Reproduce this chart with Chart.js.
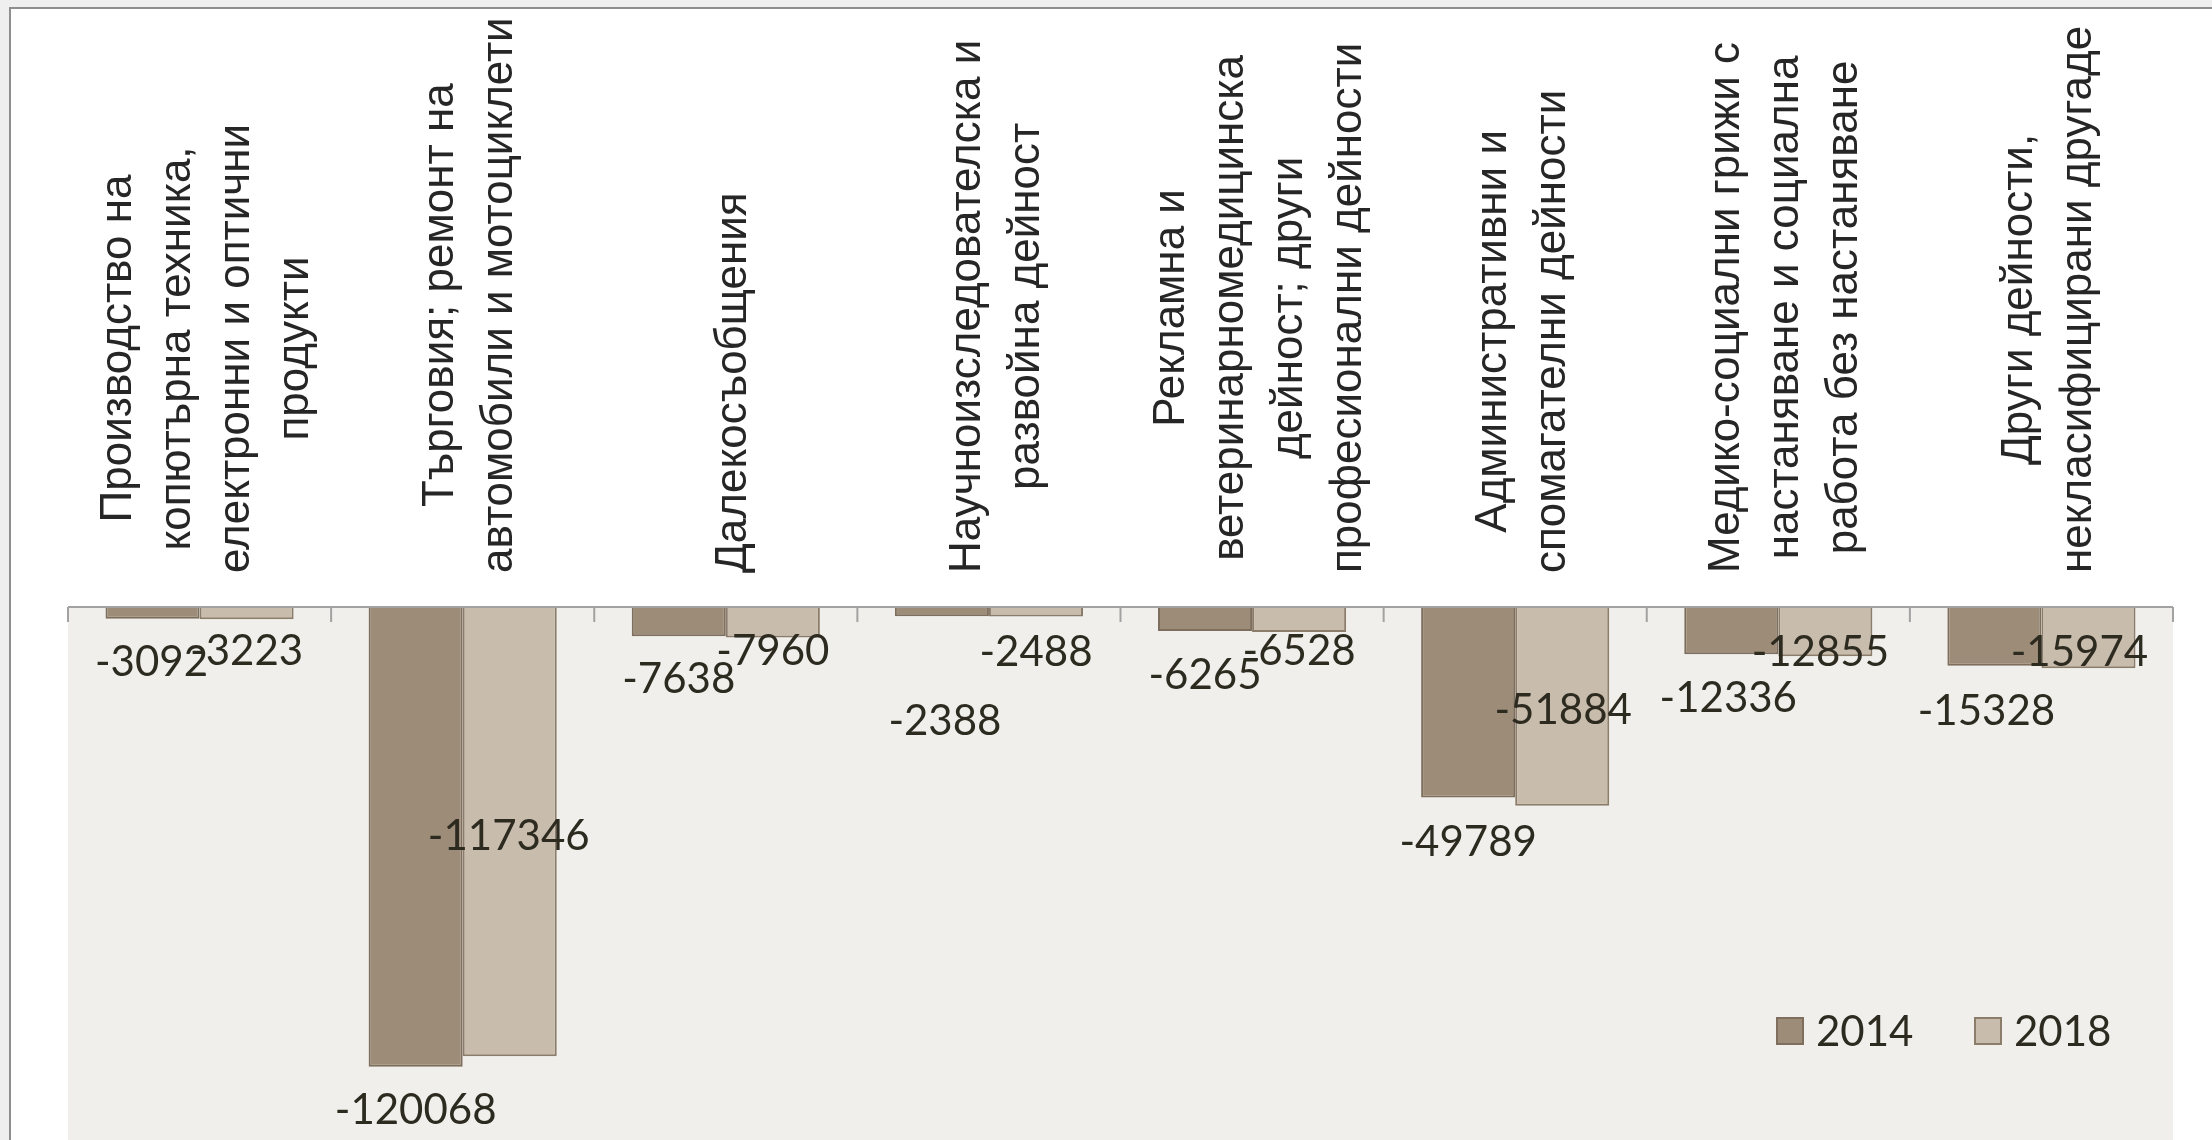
<!DOCTYPE html>
<html>
<head>
<meta charset="utf-8">
<script src="https://cdn.jsdelivr.net/npm/chart.js@4"></script>
<style>
  html, body { margin: 0; padding: 0; overflow: hidden; background: #efefef; }
  #frame { position: absolute; left: 9px; top: 7px; width: 2300px; height: 1200px;
           background: #fff; border-left: 2px solid #8e8e8e; border-top: 2px solid #8e8e8e; }
  #chart { position: absolute; left: 0; top: 0; }
</style>
</head>
<body>
<div id="frame"></div>
<canvas id="chart" width="2212" height="1145"></canvas>
<script>
// categories, split the way the original wraps them
const categories = [
  ["Производство на", "копютърна техника,", "електронни и оптични", "продукти"],
  ["Търговия; ремонт на", "автомобили и мотоциклети"],
  ["Далекосъобщения"],
  ["Научноизследователска и", "развойна дейност"],
  ["Рекламна и", "ветеринарномедицинска", "дейност; други", "професионални дейности"],
  ["Административни и", "спомагателни дейности"],
  ["Медико-социални грижи с", "настаняване и социална", "работа без настаняване"],
  ["Други дейности,", "некласифицирани другаде"]
];
const seriesNames = ["2014", "2018"];
const values2014 = [-3092, -120068, -7638, -2388, -6265, -49789, -12336, -15328];
const values2018 = [-3223, -117346, -7960, -2488, -6528, -51884, -12855, -15974];
const valueMin = -140000;
const valueMax = 0;

// hand-placed data labels in the original: shift [dx, dy] from the bar end, px
const labelShift2014 = [[-1, 42], [0, 42], [0, 42], [3, 104], [0, 43], [0, 43], [-3, 43], [-8, 44]];
const labelShift2018 = [[0, 31], [-1, -221], [0, 13], [0, 34], [0, 18], [1, -97], [-5, -5], [-9, -17]];

const colors = [
  { fill: "#9d8d78", line: "#7d6e5d" },
  { fill: "#c8bcad", line: "#8c7d6b" }
];
const textColor = "#2d2a20";

const decor = {
  id: "decor",
  beforeDraw(chart) {
    const { ctx, chartArea: a } = chart;
    ctx.save();
    ctx.fillStyle = "#f0efeb";
    ctx.fillRect(a.left, a.top, a.right - a.left, a.bottom - a.top);
    ctx.restore();
  },
  afterDatasetsDraw(chart) {
    const { ctx, chartArea: a } = chart;
    const x = chart.scales.x;
    const half = (x.getPixelForValue(1) - x.getPixelForValue(0)) / 2;

    // axis line + inward ticks
    ctx.save();
    ctx.strokeStyle = "#a2a2a2";
    ctx.lineWidth = 2;
    ctx.beginPath();
    ctx.moveTo(a.left, a.top);
    ctx.lineTo(a.right, a.top);
    for (let i = 0; i <= categories.length; i++) {
      const px = i < categories.length ? x.getPixelForValue(i) - half : x.getPixelForValue(i - 1) + half;
      ctx.moveTo(px, a.top);
      ctx.lineTo(px, a.top + 15);
    }
    ctx.stroke();

    // data labels
    const shifts = [labelShift2014, labelShift2018];
    ctx.font = '42px Lato, "Open Sans", sans-serif';
    ctx.fillStyle = textColor;
    ctx.textAlign = "center";
    ctx.textBaseline = "alphabetic";
    chart.data.datasets.forEach((ds, d) => {
      chart.getDatasetMeta(d).data.forEach((bar, i) => {
        const [dx, dy] = shifts[d][i];
        ctx.fillText(String(ds.data[i]), bar.x + dx, bar.y + dy + 15);
      });
    });
    ctx.restore();
  },
  afterDraw(chart) {
    const { ctx, chartArea: a } = chart;
    const x = chart.scales.x;

    // rotated, centred category labels above the axis
    ctx.save();
    ctx.font = '44px "Liberation Sans", Arial, sans-serif';
    ctx.fillStyle = "#262626";
    ctx.textAlign = "center";
    ctx.textBaseline = "middle";
    categories.forEach((lines, i) => {
      const cx = x.getPixelForValue(i) + 8;
      const widest = Math.max(...lines.map(l => ctx.measureText(l).width));
      const cy = a.top - 34 - widest / 2;
      lines.forEach((line, j) => {
        ctx.save();
        ctx.translate(cx + (j - (lines.length - 1) / 2) * 59, cy);
        ctx.rotate(-Math.PI / 2);
        ctx.fillText(line, 0, 0);
        ctx.restore();
      });
    });
    ctx.restore();

    // legend inside the plot, bottom right
    ctx.save();
    ctx.font = '42px Lato, "Open Sans", sans-serif';
    ctx.textBaseline = "alphabetic";
    ctx.textAlign = "left";
    let lx = a.right - 397;
    const ly = a.bottom - 112;
    chart.data.datasets.forEach(ds => {
      ctx.fillStyle = ds.backgroundColor;
      ctx.fillRect(lx, ly - 14, 28, 28);
      ctx.strokeStyle = ds.borderColor;
      ctx.lineWidth = 2;
      ctx.strokeRect(lx + 1, ly - 13, 26, 26);
      ctx.fillStyle = textColor;
      ctx.fillText(ds.label, lx + 40, ly + 15);
      lx += 198;
    });
    ctx.restore();
  }
};

new Chart(document.getElementById("chart"), {
  type: "bar",
  data: {
    labels: categories,
    datasets: [
      { label: seriesNames[0], data: values2014, backgroundColor: colors[0].fill, borderColor: colors[0].line, borderWidth: 2 },
      { label: seriesNames[1], data: values2018, backgroundColor: colors[1].fill, borderColor: colors[1].line, borderWidth: 2 }
    ]
  },
  options: {
    responsive: false,
    animation: false,
    layout: { padding: { left: 68, right: 39, top: 0, bottom: 2 } },
    datasets: { bar: { barPercentage: 1, categoryPercentage: 0.715 } },
    plugins: { legend: { display: false }, tooltip: { enabled: false } },
    scales: {
      x: {
        position: "top",
        grid: { display: false },
        border: { display: false },
        ticks: { display: false },
        afterFit(scale) { scale.height = 607; }
      },
      y: { display: false, min: valueMin, max: valueMax }
    }
  },
  plugins: [decor]
});
</script>
</body>
</html>
